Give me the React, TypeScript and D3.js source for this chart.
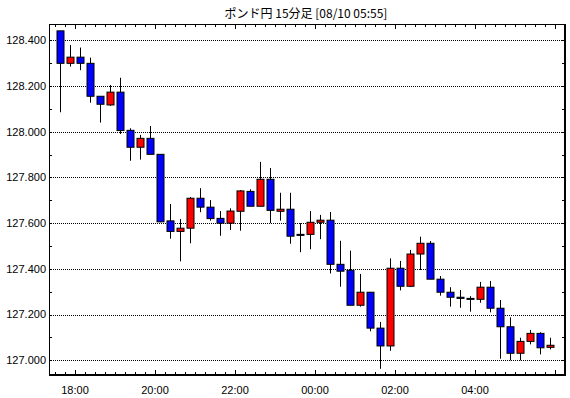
import { useEffect } from 'react';
import * as d3 from 'd3';

// 15-minute bars, 08/09 17:30 .. 08/10 05:45
const barTimes = [
  '17:30', '17:45', '18:00', '18:15', '18:30', '18:45', '19:00', '19:15', '19:30', '19:45',
  '20:00', '20:15', '20:30', '20:45', '21:00', '21:15', '21:30', '21:45', '22:00', '22:15',
  '22:30', '22:45', '23:00', '23:15', '23:30', '23:45', '00:00', '00:15', '00:30', '00:45',
  '01:00', '01:15', '01:30', '01:45', '02:00', '02:15', '02:30', '02:45', '03:00', '03:15',
  '03:30', '03:45', '04:00', '04:15', '04:30', '04:45', '05:00', '05:15', '05:30', '05:45',
];
const opens = [
  128.441, 128.299, 128.326, 128.299, 128.155, 128.117, 128.173, 128.006, 127.932, 127.971,
  127.901, 127.61, 127.564, 127.578, 127.709, 127.67, 127.621, 127.6, 127.652, 127.739,
  127.674, 127.792, 127.652, 127.661, 127.551, 127.551, 127.604, 127.613, 127.42, 127.394,
  127.241, 127.298, 127.141, 127.063, 127.403, 127.324, 127.465, 127.512, 127.355, 127.298,
  127.276, 127.271, 127.267, 127.32, 127.228, 127.147, 127.031, 127.083, 127.118, 127.057,
];
const highs = [
  128.441, 128.379, 128.368, 128.324, 128.155, 128.204, 128.236, 128.015, 127.986, 128.025,
  127.901, 127.684, 127.618, 127.714, 127.753, 127.701, 127.653, 127.665, 127.745, 127.748,
  127.868, 127.841, 127.733, 127.733, 127.6, 127.653, 127.636, 127.649, 127.523, 127.48,
  127.378, 127.298, 127.168, 127.446, 127.435, 127.483, 127.541, 127.522, 127.369, 127.32,
  127.308, 127.281, 127.343, 127.347, 127.264, 127.188, 127.099, 127.133, 127.123, 127.099,
];
const lows = [
  128.085, 128.285, 128.269, 128.127, 128.04, 128.113, 127.99, 127.873, 127.878, 127.901,
  127.604, 127.532, 127.433, 127.512, 127.648, 127.611, 127.545, 127.57, 127.567, 127.674,
  127.674, 127.6, 127.611, 127.51, 127.473, 127.486, 127.53, 127.38, 127.322, 127.241,
  127.235, 127.127, 126.963, 127.042, 127.306, 127.321, 127.395, 127.355, 127.283, 127.235,
  127.23, 127.213, 127.252, 127.21, 127.007, 127.0, 127.0, 127.07, 127.026, 127.048,
];
const closes = [
  128.299, 128.326, 128.299, 128.155, 128.12, 128.173, 128.005, 127.932, 127.971, 127.901,
  127.606, 127.564, 127.578, 127.709, 127.67, 127.62, 127.6, 127.653, 127.741, 127.674,
  127.792, 127.656, 127.661, 127.543, 127.547, 127.604, 127.613, 127.42, 127.39, 127.241,
  127.298, 127.141, 127.063, 127.403, 127.324, 127.465, 127.512, 127.355, 127.298, 127.276,
  127.271, 127.267, 127.32, 127.228, 127.147, 127.031, 127.083, 127.118, 127.055, 127.066,
];
const priceTicks = [127.0, 127.2, 127.4, 127.6, 127.8, 128.0, 128.2, 128.4];
const timeLabels = ['18:00', '20:00', '22:00', '00:00', '02:00', '04:00'];
const title = 'ポンド円 15分足 [08/10 05:55]';

const toDate = (s: string) => {
  const [h, m] = s.split(':').map(Number);
  return new Date(2021, 7, h >= 12 ? 9 : 10, h, m);
};

const App = () => {
  useEffect(() => {
    document.body.style.margin = '0';
  }, []);

  const W = 570;
  const H = 398;
  const left = 49;
  const right = 565;
  const top = 24;
  const bottom = 375;

  const x = d3
    .scaleTime()
    .domain([new Date(2021, 7, 9, 17, 21), new Date(2021, 7, 10, 6, 15)])
    .range([left, right]);
  const y = d3.scaleLinear().domain([126.936, 128.471]).range([bottom, top]);

  const half = d3.timeMinute.offset(toDate('00:00'), 7.5).getTime() - toDate('00:00').getTime();
  const cx = (t: string) => x(new Date(toDate(t).getTime() + half));

  const ticks15 = d3.timeMinute.every(15)!.range(new Date(2021, 7, 9, 17, 30), new Date(2021, 7, 10, 6, 1));
  const minorY = d3.range(127.0, 128.45, 0.1);

  const font = '"Liberation Sans", Arial, sans-serif';
  const fmt = d3.format('.3f');

  return (
    <svg width={W} height={H} style={{ display: 'block', background: '#fff' }}>
      <text x={306} y={18} textAnchor="middle" fontSize={12} fontFamily='"Noto Sans CJK JP", sans-serif'>
        {title}
      </text>

      {priceTicks.map(p => (
        <g key={p}>
          <line x1={left} x2={right} y1={Math.round(y(p)) + 0.5} y2={Math.round(y(p)) + 0.5}
            stroke="#000" strokeDasharray="1,1" />
          <text x={46} y={y(p)} dy="0.35em" textAnchor="end" fontSize={11} fontFamily={font}>
            {fmt(p)}
          </text>
        </g>
      ))}

      {minorY.map(p => (
        <g key={'m' + p}>
          <line x1={left} x2={left + 3} y1={Math.round(y(p)) + 0.5} y2={Math.round(y(p)) + 0.5} stroke="#000" />
          <line x1={right - 3} x2={right} y1={Math.round(y(p)) + 0.5} y2={Math.round(y(p)) + 0.5} stroke="#000" />
        </g>
      ))}

      {ticks15.map(t => {
        const major = t.getMinutes() === 0 && t.getHours() % 2 === 0;
        const len = major ? 5 : 3;
        const xx = Math.round(x(t)) + 0.5;
        return (
          <g key={t.getTime()}>
            <line x1={xx} x2={xx} y1={bottom} y2={bottom - len} stroke="#000" />
            <line x1={xx} x2={xx} y1={top} y2={top + len} stroke="#000" />
          </g>
        );
      })}

      {timeLabels.map(t => (
        <text key={t} x={x(toDate(t))} y={394} textAnchor="middle" fontSize={11} fontFamily={font}>
          {t}
        </text>
      ))}

      {barTimes.map((t, i) => {
        const xc = Math.round(cx(t)) + 0.5;
        const o = opens[i];
        const c = closes[i];
        const yTop = y(Math.max(o, c));
        const yBot = y(Math.min(o, c));
        return (
          <g key={t}>
            <line x1={xc} x2={xc} y1={y(highs[i])} y2={y(lows[i])} stroke="#000" />
            <rect
              x={xc - 3.5}
              y={yTop}
              width={7}
              height={Math.max(1, yBot - yTop)}
              fill={c >= o ? '#ff0000' : '#0000ff'}
              stroke="#000"
            />
          </g>
        );
      })}

      <line x1={left + 0.5} x2={left + 0.5} y1={top} y2={bottom} stroke="#000" />
      <line x1={left} x2={right} y1={top + 0.5} y2={top + 0.5} stroke="#000" />
      <line x1={right} x2={right} y1={top} y2={bottom + 1} stroke="#000" strokeWidth={2} />
      <line x1={left} x2={right + 1} y1={bottom} y2={bottom} stroke="#000" strokeWidth={2} />
    </svg>
  );
};

export default App;
